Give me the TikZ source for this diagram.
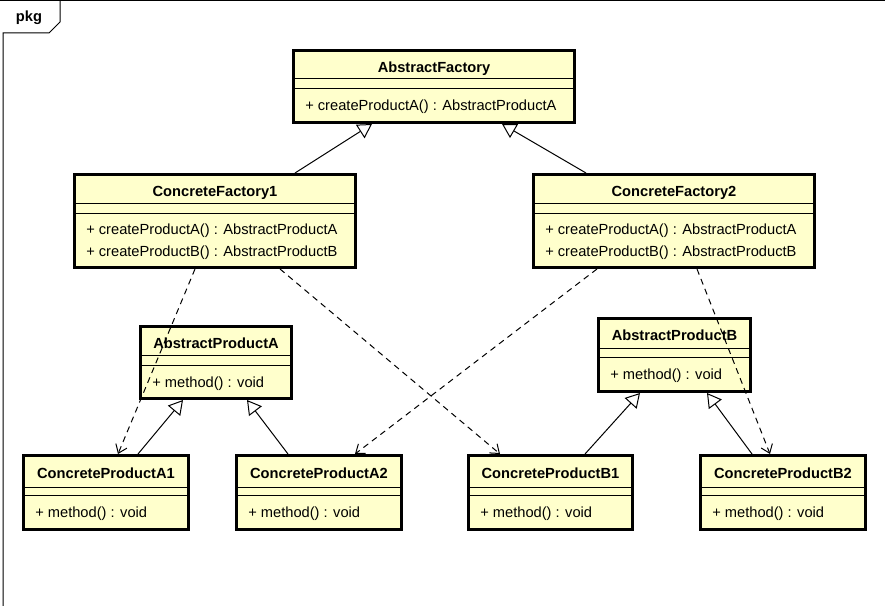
\documentclass[tikz,border=0pt]{standalone}
\usepackage{fontspec}
\setmainfont{Liberation Sans}
\usetikzlibrary{arrows.meta,fit}
\definecolor{classfill}{RGB}{255,255,204}
\tikzset{
  classbox/.style={draw=black, fill=classfill, line width=2.25pt, inner sep=0pt},
  sepline/.style={line width=0.75pt},
  ctitle/.style={font=\fontsize{11}{13}\selectfont\bfseries, anchor=base, inner sep=0pt},
  cmethod/.style={font=\fontsize{11}{13}\selectfont, anchor=base west, inner sep=0pt},
  gen/.style={line width=0.75pt, -{Triangle[open, length=10.5pt, width=12pt, line width=0.75pt]}},
  dep/.style={line width=0.75pt, dash pattern=on 4.5pt off 3.5pt,
    -{Straight Barb[length=6pt, width=9pt, line width=0.75pt]}},
  frameline/.style={line width=0.75pt},
}
% class box: name, x1, y1, x2, y2, first separator y, second separator y, title
\newcommand\umlclass[8]{%
  \node[classbox, fit={(#2,#3) (#4,#5)}] (#1) {};
  \draw[sepline] (#2,#6) -- (#4,#6);
  \draw[sepline] (#2,#7) -- (#4,#7);
  \node[ctitle] (#1-title) at ({(#2+#4)/2},{(#3+#6)/2+7.5}) {#8};
}
\begin{document}
\begin{tikzpicture}[x=0.75pt, y=-0.75pt]
\useasboundingbox (0,0) rectangle (885,606);

% package frame
\draw[frameline] (0,1) -- (885,1);
\draw[frameline] (3,606) -- (3,33) -- (49,33) -- (60,22) -- (60,1);
\node[font=\fontsize{11}{12}\selectfont\bfseries, inner sep=0pt] (pkg) at (29,18) {pkg};

% classes
\umlclass{af}{293.5}{50.5}{574.5}{122.5}{79}{89}{AbstractFactory}
\node[cmethod] (af-m1) at (305,111) {+ createProductA() : AbstractProductA};

\umlclass{cf1}{74.5}{174.5}{355.5}{267.5}{203}{213}{ConcreteFactory1}
\node[cmethod] (cf1-m1) at (86,234) {+ createProductA() : AbstractProductA};
\node[cmethod] (cf1-m2) at (86,256) {+ createProductB() : AbstractProductB};

\umlclass{cf2}{533.5}{174.5}{814.5}{267.5}{203}{213}{ConcreteFactory2}
\node[cmethod] (cf2-m1) at (545,234) {+ createProductA() : AbstractProductA};
\node[cmethod] (cf2-m2) at (545,256) {+ createProductB() : AbstractProductB};

\umlclass{apa}{140.5}{326.5}{291.5}{398.5}{355}{365}{AbstractProductA}
\node[cmethod] (apa-m1) at (152,387) {+ method() : void};

\umlclass{apb}{598.5}{318.5}{750.5}{391.5}{348}{357}{AbstractProductB}
\node[cmethod] (apb-m1) at (610,379) {+ method() : void};

\umlclass{pa1}{23.5}{455.5}{188.5}{529.5}{487}{495}{ConcreteProductA1}
\node[cmethod] (pa1-m1) at (35,517) {+ method() : void};

\umlclass{pa2}{236.5}{455.5}{401.5}{529.5}{487}{495}{ConcreteProductA2}
\node[cmethod] (pa2-m1) at (248,517) {+ method() : void};

\umlclass{pb1}{468.5}{455.5}{632.5}{529.5}{487}{495}{ConcreteProductB1}
\node[cmethod] (pb1-m1) at (480,517) {+ method() : void};

\umlclass{pb2}{700.5}{455.5}{865.5}{529.5}{487}{495}{ConcreteProductB2}
\node[cmethod] (pb2-m1) at (712,517) {+ method() : void};

% generalizations
\draw[gen] (cf1.north -| 295,0) -- (af.south -| 372,0);
\draw[gen] (cf2.north -| 586,0) -- (af.south -| 502,0);
\draw[gen] (pa1.north -| 138,0) -- (apa.south -| 183,0);
\draw[gen] (pa2.north -| 288,0) -- (apa.south -| 247,0);
\draw[gen] (pb1.north -| 585,0) -- (apb.south -| 640,0);
\draw[gen] (pb2.north -| 752,0) -- (apb.south -| 707,0);

% dependencies
\draw[dep] (cf1.south -| 195,0) -- (pa1.north -| 118,0);
\draw[dep] (cf1.south -| 280,0) -- (pb1.north -| 500,0);
\draw[dep] (cf2.south -| 597,0) -- (pa2.north -| 355,0);
\draw[dep] (cf2.south -| 697,0) -- (pb2.north -| 770,0);
\end{tikzpicture}
\end{document}
